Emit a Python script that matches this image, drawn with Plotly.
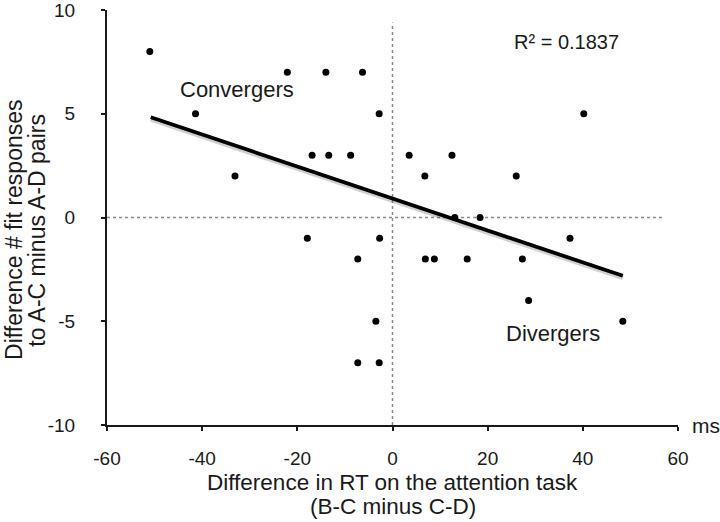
import plotly.graph_objects as go

# Scatter data
rt_diff = [-51, -41.4, -33.1, -22.1, -14.0, -6.3, -2.8, -16.9, -13.4, -8.8,
           3.5, 12.5, 6.8, 13.1, 18.4, 40.2, 26.0, -17.9, -2.7, -7.3,
           6.9, 8.8, 15.7, -3.5, -7.3, -2.8, 37.3, 27.3, 28.6, 48.4]
fit_diff = [8, 5, 2, 7, 7, 7, 5, 3, 3, 3,
            3, 3, 2, 0, 0, 5, 2, -1, -1, -2,
            -2, -2, -2, -5, -7, -7, -1, -2, -4, -5]

# Regression line end points
fit_x = [-50.8, 48.4]
fit_y = [4.83, -2.81]

x_ticks = [-60, -40, -20, 0, 20, 40, 60]
y_ticks = [-10, -5, 0, 5, 10]

FONT = "Liberation Sans, Arial, Helvetica, sans-serif"
INK = "#1a1a1a"

fig = go.Figure()

# reference dashed lines
fig.add_trace(go.Scatter(x=[-60, 56.6], y=[0, 0], mode="lines",
                         line=dict(color="#8a8a8a", width=1.5, dash="3px,3px"),
                         hoverinfo="skip", showlegend=False))
fig.add_trace(go.Scatter(x=[0, 0], y=[-10, 9.4], mode="lines",
                         line=dict(color="#8a8a8a", width=1.5, dash="3px,3px"),
                         hoverinfo="skip", showlegend=False))

# shadow of trend line
fig.add_trace(go.Scatter(x=fit_x, y=[v - 0.09 for v in fit_y], mode="lines",
                         line=dict(color="rgba(0,0,0,0.18)", width=5),
                         hoverinfo="skip", showlegend=False))
# trend line
fig.add_trace(go.Scatter(x=fit_x, y=fit_y, mode="lines",
                         line=dict(color="#000000", width=3.8),
                         showlegend=False))

# points
fig.add_trace(go.Scatter(x=rt_diff, y=fit_diff, mode="markers",
                         marker=dict(color="#000000", size=7),
                         showlegend=False))

fig.update_layout(
    width=720, height=522,
    margin=dict(l=107, r=42, t=10, b=97, autoexpand=False),
    paper_bgcolor="white", plot_bgcolor="white",
    font=dict(family=FONT, color=INK, size=19),
    showlegend=False,
)

fig.update_xaxes(range=[-60, 60], tickvals=x_ticks, ticktext=[str(v) for v in x_ticks],
                 automargin=False, ticklabeloverflow="allow",
                 showgrid=False, zeroline=False, showline=True, linecolor=INK, linewidth=2,
                 ticks="outside", ticklen=4, tickwidth=1.5, tickcolor=INK,
                 tickfont=dict(size=19, color=INK), ticklabelstandoff=11)
fig.update_yaxes(range=[-10, 10], tickvals=y_ticks, ticktext=[str(v) for v in y_ticks],
                 automargin=False, ticklabeloverflow="allow",
                 showgrid=False, zeroline=False, showline=True, linecolor=INK, linewidth=2,
                 ticks="outside", ticklen=4, tickwidth=1.5, tickcolor=INK,
                 tickfont=dict(size=19, color=INK), ticklabelstandoff=22)

ann = [
    dict(text="Convergers", x=-32.7, y=6.17, xref="x", yref="y", size=22),
    dict(text="Divergers", x=33.7, y=-5.58, xref="x", yref="y", size=22),
    dict(text="R² = 0.1837", x=36.6, y=8.48, xref="x", yref="y", size=20),
]
for a in ann:
    fig.add_annotation(text=a["text"], x=a["x"], y=a["y"], xref=a["xref"], yref=a["yref"],
                       showarrow=False, font=dict(size=a["size"], color=INK, family=FONT),
                       xanchor="center", yanchor="middle")

# "ms" unit label
fig.add_annotation(text="ms", x=60, y=-10, xref="x", yref="y", xanchor="left", yanchor="middle",
                   xshift=12, showarrow=False, font=dict(size=21, color=INK, family=FONT))

# axis titles as separate lines
fig.add_annotation(text="Difference in RT on the attention task", x=0.5, y=-0.1394,
                   xref="paper", yref="paper", xanchor="center", yanchor="middle",
                   showarrow=False, font=dict(size=22.5, color=INK, family=FONT))
fig.add_annotation(text="(B-C minus C-D)", x=0.5, y=-0.197,
                   xref="paper", yref="paper", xanchor="center", yanchor="middle",
                   showarrow=False, font=dict(size=22.5, color=INK, family=FONT))
fig.add_annotation(text="Difference # fit responses", x=-0.163, y=0.47,
                   xref="paper", yref="paper", xanchor="center", yanchor="middle",
                   textangle=-90, showarrow=False, font=dict(size=23, color=INK, family=FONT))
fig.add_annotation(text="to A-C minus A-D pairs", x=-0.123, y=0.47,
                   xref="paper", yref="paper", xanchor="center", yanchor="middle",
                   textangle=-90, showarrow=False, font=dict(size=23, color=INK, family=FONT))

fig.write_html("out.html", config={"displayModeBar": False},
               post_script="document.body.style.margin='0';")
